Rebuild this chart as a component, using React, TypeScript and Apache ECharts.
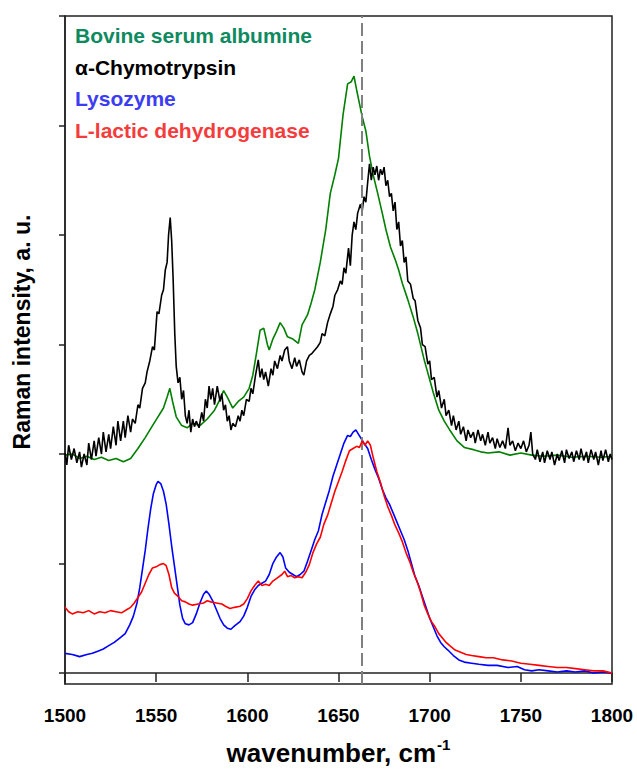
import React, { useEffect, useRef } from "react";
import * as echarts from "echarts";

const xTicks = [1500, 1550, 1600, 1650, 1700, 1750, 1800];
const yTickValues = [0, 1, 2, 3, 4, 5, 6];
const markerWavenumber = 1663;

const seriesNames = ["Bovine serum albumine", "α-Chymotrypsin", "Lysozyme", "L-lactic dehydrogenase"];

const bsa: number[][] = [
  [1500,1.99],[1504,2.0],[1508,1.96],[1512,1.98],[1516,1.95],[1520,1.97],[1524,1.94],[1528,1.96],[1532,1.93],[1536,1.96],
  [1540,2.05],[1544,2.15],[1548,2.26],[1551,2.34],[1554,2.42],[1556,2.52],[1557.5,2.6],[1559,2.48],[1561,2.34],[1564,2.26],
  [1567,2.24],[1570,2.28],[1574,2.26],[1578,2.32],[1582,2.4],[1585,2.5],[1587,2.58],[1589,2.52],[1592,2.42],[1595,2.48],
  [1598,2.52],[1601,2.6],[1603,2.72],[1605,2.92],[1607,3.13],[1609,3.15],[1611,3.0],[1612,2.95],[1614,3.05],[1616,3.12],
  [1618,3.2],[1620,3.15],[1622,3.07],[1625,3.05],[1628,3.01],[1630,3.18],[1633,3.27],[1635,3.38],[1637,3.5],[1640,3.75],
  [1643,4.05],[1645.5,4.38],[1648,4.55],[1650,4.7],[1652.5,5.1],[1655,5.38],[1657,5.4],[1658.5,5.45],[1660,5.32],[1661.5,5.2],
  [1663,5.08],[1665,4.95],[1667,4.72],[1669,4.55],[1671.5,4.38],[1674,4.2],[1676,4.05],[1678.5,3.89],[1681,3.78],[1683,3.68],
  [1685,3.56],[1688,3.41],[1691,3.25],[1693.5,3.1],[1697,2.86],[1700,2.68],[1702,2.56],[1705,2.4],[1708,2.3],[1711,2.22],
  [1715,2.12],[1719,2.06],[1724,2.04],[1728,2.02],[1732,2.01],[1738,2.02],[1744,1.99],[1750,2.01],[1756,1.99],[1762,1.98],
  [1770,1.99],[1778,1.97],[1786,1.98],[1794,1.97],[1800,1.98]
];

const chymotrypsin: number[][] = [
  [1500,2.01],[1501,1.9],[1502,2.08],[1503.5,1.95],[1505,2.05],[1506.5,1.92],[1508,2.02],[1509,1.88],[1510.5,2.0],[1512,1.9],
  [1513,2.1],[1514.5,1.95],[1516,2.12],[1517,1.98],[1518.5,2.15],[1520,2.0],[1521,2.2],[1522.5,2.02],[1524,2.18],[1525,2.05],
  [1526.5,2.25],[1528,2.08],[1529,2.3],[1530.5,2.12],[1532,2.3],[1533,2.15],[1534.5,2.35],[1536,2.2],[1537,2.32],[1538.5,2.28],
  [1540,2.45],[1541,2.42],[1542.5,2.6],[1544,2.65],[1545,2.75],[1546.5,2.85],[1548,2.98],[1549,2.95],[1550.5,3.3],[1551.5,3.28],
  [1553,3.45],[1554,3.5],[1555,3.68],[1556,3.75],[1556.8,4.0],[1557.7,4.16],[1558.5,3.95],[1559.3,3.6],[1560.2,3.1],[1561,2.8],
  [1562,2.65],[1563,2.7],[1564,2.5],[1565,2.58],[1566,2.35],[1567,2.28],[1568,2.4],[1569,2.2],[1570,2.32],[1571,2.25],
  [1572,2.3],[1573.5,2.24],[1575,2.38],[1576,2.3],[1577,2.5],[1578,2.42],[1579,2.62],[1580,2.5],[1581,2.6],[1582,2.45],
  [1583.5,2.62],[1585,2.48],[1586,2.55],[1587,2.4],[1588,2.45],[1589,2.3],[1590,2.35],[1591,2.22],[1592,2.28],[1593.5,2.25],
  [1595,2.35],[1596,2.3],[1597,2.4],[1598,2.35],[1599.5,2.5],[1601,2.48],[1602,2.6],[1603,2.55],[1604.5,2.72],[1606,2.86],
  [1607,2.7],[1608,2.78],[1609,2.68],[1610,2.75],[1611.5,2.62],[1613,2.78],[1614,2.72],[1615,2.85],[1616.5,2.78],[1618,2.9],
  [1619,2.85],[1620.5,2.95],[1622,2.98],[1623,2.85],[1624.5,2.78],[1626,2.88],[1627,2.8],[1628.5,2.86],[1630,2.75],[1631,2.72],
  [1632.5,2.85],[1634,2.9],[1635.5,2.92],[1637,2.95],[1638.5,2.98],[1640,3.02],[1641,3.1],[1642.5,3.08],[1644,3.2],[1645.5,3.28],
  [1647,3.35],[1648,3.45],[1649.5,3.5],[1651,3.58],[1652,3.55],[1653,3.7],[1654,3.65],[1655.5,3.88],[1656.5,3.72],[1657.5,4.0],
  [1658.5,4.12],[1659.5,4.05],[1660.5,4.2],[1662,4.28],[1663,4.22],[1664,4.35],[1665,4.3],[1666,4.48],[1667,4.65],[1668,4.5],
  [1669,4.62],[1670,4.55],[1671,4.63],[1672,4.5],[1673,4.6],[1674,4.55],[1675,4.62],[1676,4.45],[1677,4.5],[1678,4.35],
  [1679,4.38],[1680,4.22],[1681,4.3],[1682,4.05],[1683,4.12],[1684,3.9],[1685,3.95],[1686,3.75],[1687,3.8],[1688,3.58],
  [1689.5,3.55],[1691,3.42],[1692,3.4],[1693.5,3.22],[1695,3.15],[1696,3.0],[1697.5,2.98],[1699,2.82],[1700,2.85],[1701,2.68],
  [1702.5,2.7],[1704,2.52],[1705,2.58],[1706.5,2.42],[1708,2.5],[1709,2.35],[1710.5,2.4],[1712,2.26],[1713,2.35],[1714.5,2.22],
  [1716,2.3],[1717,2.18],[1718.5,2.25],[1720,2.12],[1721,2.22],[1722.5,2.15],[1724,2.2],[1725,2.1],[1726.5,2.22],[1728,2.12],
  [1729,2.18],[1730.5,2.08],[1732,2.2],[1733,2.1],[1734.5,2.15],[1736,2.05],[1737,2.14],[1738.5,2.06],[1740,2.12],[1741.5,2.05],
  [1743,2.24],[1744,2.08],[1745.5,2.12],[1747,2.03],[1748.5,2.1],[1750,2.05],[1751.5,2.12],[1753,2.02],[1754.5,2.08],[1755.5,2.2],
  [1756.5,2.0],[1758,1.95],[1759,2.04],[1760.5,1.93],[1762,2.02],[1763,1.92],[1764.5,2.03],[1766,1.95],[1767,2.02],[1768.5,1.9],
  [1770,2.0],[1771,1.94],[1772.5,2.03],[1774,1.92],[1775,2.04],[1776.5,1.96],[1778,2.02],[1779,1.93],[1780.5,2.03],[1782,1.95],
  [1783,2.05],[1784.5,1.94],[1786,2.02],[1787,1.92],[1788.5,2.04],[1790,1.95],[1791,2.02],[1792.5,1.9],[1794,2.03],[1795,1.94],
  [1796.5,2.04],[1798,1.93],[1799,2.0],[1800,1.95]
];

const lysozyme: number[][] = [
  [1500,0.18],[1504,0.17],[1508,0.15],[1512,0.17],[1515,0.18],[1518,0.2],[1521,0.22],[1524,0.25],[1527,0.28],[1530,0.32],
  [1533,0.36],[1535.5,0.44],[1537.5,0.52],[1539.5,0.64],[1541,0.78],[1542.5,0.95],[1544,1.12],[1545.5,1.32],[1547,1.5],[1548.5,1.64],
  [1550,1.72],[1551,1.75],[1552.5,1.73],[1554,1.66],[1555.5,1.54],[1557,1.36],[1558.5,1.16],[1560,0.98],[1561.5,0.8],[1563,0.62],
  [1564.5,0.5],[1566,0.45],[1568,0.44],[1570,0.46],[1572,0.54],[1574,0.64],[1576,0.72],[1577.5,0.75],[1579,0.72],[1581,0.66],
  [1583,0.58],[1585,0.5],[1587,0.44],[1589,0.41],[1591,0.4],[1593,0.43],[1596,0.47],[1598,0.52],[1600,0.6],[1602,0.7],
  [1604,0.76],[1606,0.8],[1608,0.82],[1610,0.84],[1612,0.9],[1614,1.0],[1616,1.06],[1618,1.1],[1619.5,1.06],[1621,0.96],
  [1623,0.92],[1625,0.9],[1627,0.88],[1629,0.9],[1631,0.93],[1633,1.02],[1635,1.12],[1637,1.22],[1639,1.3],[1641,1.45],
  [1643,1.56],[1645,1.67],[1647,1.8],[1649,1.9],[1651,2.0],[1653,2.1],[1655,2.17],[1656.5,2.16],[1658,2.2],[1659.5,2.22],
  [1661,2.18],[1662.5,2.14],[1664,2.1],[1666,2.05],[1668,1.95],[1670,1.86],[1672,1.78],[1674,1.68],[1676,1.6],[1678,1.54],
  [1680,1.46],[1682,1.38],[1684,1.3],[1686,1.22],[1688,1.12],[1690,1.0],[1692,0.88],[1694,0.8],[1696,0.7],[1698,0.6],
  [1700,0.5],[1702,0.42],[1704,0.34],[1706,0.28],[1708,0.24],[1710,0.21],[1713,0.16],[1716,0.12],[1719,0.1],[1723,0.09],
  [1727,0.08],[1732,0.07],[1737,0.07],[1743,0.05],[1748,0.06],[1752,0.03],[1756,0.02],[1760,0.03],[1765,0.02],[1770,0.01],
  [1775,0.02],[1780,0.01],[1785,0.02],[1790,0.0],[1795,0.01],[1800,0.0]
];

const ldh: number[][] = [
  [1500,0.6],[1502,0.56],[1504,0.54],[1507,0.56],[1510,0.55],[1513,0.57],[1516,0.54],[1519,0.56],[1522,0.55],[1525,0.57],
  [1528,0.56],[1531,0.55],[1534,0.58],[1536,0.6],[1538,0.64],[1540,0.69],[1542,0.74],[1544,0.82],[1546,0.9],[1548,0.96],
  [1550,0.97],[1552,0.99],[1554,1.0],[1555.5,0.98],[1557,0.9],[1558.5,0.78],[1560,0.73],[1562,0.7],[1564,0.66],[1566,0.65],
  [1568,0.63],[1570,0.62],[1573,0.63],[1576,0.64],[1578,0.66],[1580,0.65],[1583,0.64],[1586,0.63],[1588,0.61],[1590.5,0.59],
  [1593,0.6],[1596,0.61],[1598,0.63],[1600,0.68],[1602,0.75],[1604,0.8],[1606,0.84],[1608,0.8],[1610,0.81],[1612,0.8],
  [1614,0.84],[1616.5,0.87],[1619,0.9],[1620.5,0.93],[1622,0.88],[1624,0.89],[1626,0.87],[1628,0.88],[1630,0.87],[1632,0.92],
  [1634,0.99],[1636,1.1],[1638,1.18],[1640,1.24],[1642,1.36],[1644,1.44],[1646,1.55],[1648,1.66],[1650,1.75],[1652,1.84],
  [1654,1.94],[1656,2.03],[1658,2.05],[1660,2.07],[1661.5,2.06],[1663,2.12],[1664.5,2.08],[1666,2.12],[1667.5,2.08],[1669,1.97],
  [1671,1.84],[1673,1.74],[1675,1.62],[1677,1.52],[1679,1.44],[1681,1.35],[1683,1.28],[1685,1.2],[1687,1.1],[1689,1.02],
  [1691,0.92],[1693,0.84],[1695,0.74],[1697,0.62],[1699,0.54],[1701,0.47],[1703,0.42],[1705,0.36],[1707,0.32],[1709,0.28],
  [1711,0.25],[1714,0.21],[1717,0.19],[1720,0.17],[1723,0.16],[1727,0.15],[1731,0.14],[1735,0.14],[1740,0.12],[1745,0.11],
  [1750,0.09],[1755,0.08],[1760,0.07],[1765,0.06],[1770,0.05],[1775,0.05],[1780,0.04],[1785,0.03],[1790,0.02],[1795,0.02],
  [1800,0.0]
];

const lineColors = ["#008000", "#000000", "#0000ff", "#ff0000"];
const labelColors = ["#0e8a5f", "#000000", "#3c3cf2", "#f53c3c"];

export default function App() {
  const ref = useRef<HTMLDivElement>(null);
  useEffect(() => {
    if (!ref.current) return;
    const chart = echarts.init(ref.current, undefined, { renderer: "svg" });
    const font = "'Liberation Sans', Arial, sans-serif";
    const datasets = [bsa, chymotrypsin, lysozyme, ldh];
    const series: any[] = datasets.map((d, i) => ({
      name: seriesNames[i],
      type: "line",
      data: d,
      showSymbol: false,
      symbol: "none",
      lineStyle: { color: lineColors[i], width: 1.6 },
      z: 2 + i,
    }));
    series[0].markLine = {
      silent: true,
      symbol: "none",
      label: { show: false },
      lineStyle: { color: "#808080", width: 2, type: [13, 5] },
      data: [{ xAxis: markerWavenumber }],
    };
    chart.setOption({
      animation: false,
      backgroundColor: "#ffffff",
      grid: {
        left: 65,
        right: 25,
        top: 16,
        bottom: 87,
        show: true,
        borderColor: "#222",
        borderWidth: 1.5,
        backgroundColor: "transparent",
      },
      xAxis: {
        type: "value",
        min: xTicks[0],
        max: xTicks[xTicks.length - 1],
        interval: 50,
        splitLine: { show: false },
        axisLine: { show: true, lineStyle: { color: "#222", width: 1.5 } },
        axisTick: { show: true, length: 9, lineStyle: { color: "#222", width: 1.5 } },
        axisLabel: {
          margin: 22,
          color: "#000",
          fontSize: 19,
          fontWeight: "bold",
          fontFamily: font,
          formatter: (v: number) => String(v),
        },
        name: "{a|wavenumber, cm}{b|-1}",
        nameLocation: "middle",
        nameGap: 53,
        nameTextStyle: {
          rich: {
            a: { fontSize: 26, fontWeight: "bold", fontFamily: font, color: "#000" },
            b: { fontSize: 15, fontWeight: "bold", fontFamily: font, color: "#000", verticalAlign: "bottom", padding: [0, 0, 16, 1] },
          },
        },
      },
      yAxis: {
        type: "value",
        min: -0.1,
        max: 6,
        splitLine: { show: false },
        axisLine: { show: true, lineStyle: { color: "#222", width: 1.5 } },
        axisTick: { show: true, length: 6, customValues: yTickValues, lineStyle: { color: "#222", width: 1.5 } },
        axisLabel: { show: false },
        name: "Raman intensity, a. u.",
        nameLocation: "middle",
        nameGap: 32,
        nameTextStyle: { fontSize: 23, fontWeight: "bold", fontFamily: font, color: "#000", padding: [0, 0, 0, 36] },
      },
      graphic: seriesNames.map((n, i) => ({
        type: "text",
        left: 75,
        top: 25 + i * 31.5,
        style: {
          text: n,
          fill: labelColors[i],
          font: `bold 21px ${font}`,
        },
        z: 10,
      })),
      series,
    });
    return () => chart.dispose();
  }, []);
  return <div ref={ref} style={{ position: "fixed", left: 0, top: 0, width: 637, height: 771, background: "#fff" }} />;
}
